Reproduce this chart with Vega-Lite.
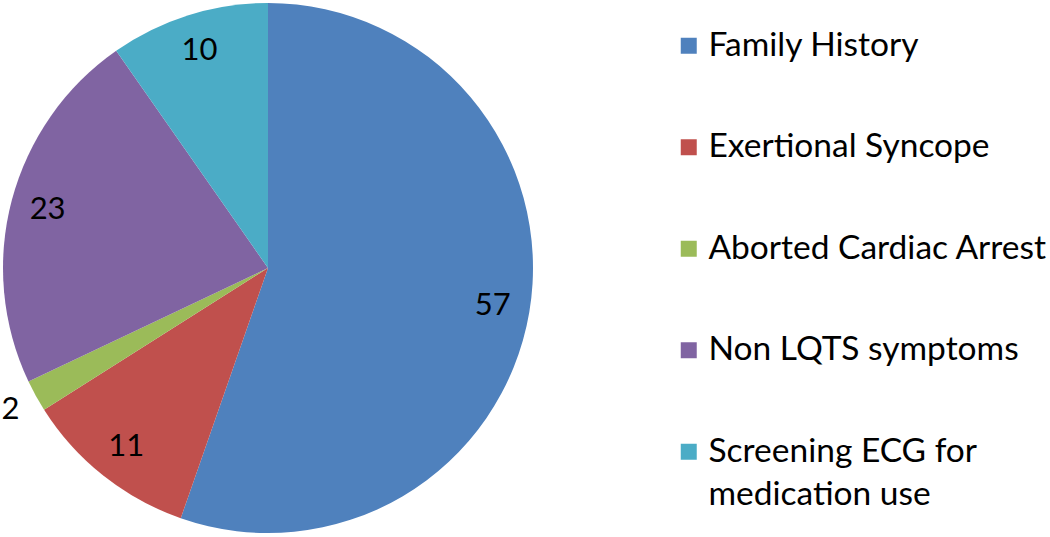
{
  "$schema": "https://vega.github.io/schema/vega-lite/v6.json",
  "width": 536,
  "height": 536,
  "autosize": {"type": "none"},
  "padding": {"left": 0, "top": 0, "right": 514, "bottom": 1},
  "background": "white",
  "config": {"view": {"stroke": null}, "font": "Lato", "style": {"guide-label": {"lineHeight": 43}}},
  "data": {"values": [
    {"category": "Family History", "value": 57, "order": 1},
    {"category": "Exertional Syncope", "value": 11, "order": 2},
    {"category": "Aborted Cardiac Arrest", "value": 2, "order": 3},
    {"category": "Non LQTS symptoms", "value": 23, "order": 4},
    {"category": "Screening ECG for medication use", "value": 10, "order": 5}
  ]},
  "encoding": {
    "theta": {"field": "value", "type": "quantitative", "stack": true},
    "order": {"field": "order", "type": "quantitative"}
  },
  "layer": [
    {
      "mark": {"type": "arc", "radius": 265},
      "encoding": {
        "color": {
          "field": "category", "type": "nominal",
          "sort": ["Family History", "Exertional Syncope", "Aborted Cardiac Arrest", "Non LQTS symptoms", "Screening ECG for medication use"],
          "scale": {"domain": ["Family History", "Exertional Syncope", "Aborted Cardiac Arrest", "Non LQTS symptoms", "Screening ECG for medication use"],
                    "range": ["#4F81BD", "#C0504D", "#9BBB59", "#8064A2", "#4BACC6"]},
          "legend": {
            "title": null,
            "orient": "none",
            "legendX": 672,
            "legendY": 29,
            "padding": 0,
            "symbolType": "square",
            "symbolSize": 256,
            "symbolStrokeWidth": 0,
            "labelFontSize": 33.5,
            "labelFont": "Lato",
            "labelColor": "#000000",
            "labelOffset": 3,
            "labelLimit": 400,
            "rowPadding": 66.5,
            "labelExpr": "datum.label == 'Screening ECG for medication use' ? ['Screening ECG for', 'medication use'] : datum.label"
          }
        }
      }
    },
    {
      "mark": {"type": "text", "radius": 228, "fontSize": 31, "font": "Lato", "color": "#000000"},
      "encoding": {
        "text": {"condition": {"test": "datum.value >= 5", "field": "value", "type": "quantitative"}, "value": ""}
      }
    },
    {
      "mark": {"type": "text", "radius": 294, "fontSize": 31, "font": "Lato", "color": "#000000"},
      "encoding": {
        "text": {"condition": {"test": "datum.value < 5", "field": "value", "type": "quantitative"}, "value": ""}
      }
    }
  ]
}
